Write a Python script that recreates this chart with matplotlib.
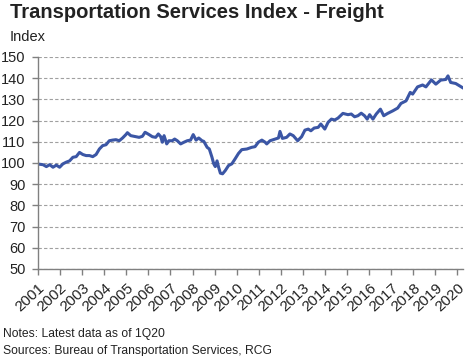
import matplotlib
matplotlib.use("Agg")
import matplotlib.pyplot as plt

plt.rcParams['font.family'] = ['Liberation Sans', 'DejaVu Sans']

# decimal year and index value
dates = [2001.00, 2001.23, 2001.38, 2001.53, 2001.68, 2001.83, 2001.98, 2002.13,
         2002.28, 2002.43, 2002.58, 2002.73, 2002.88, 2003.03, 2003.18, 2003.33,
         2003.48, 2003.63, 2003.78, 2003.93, 2004.08, 2004.23, 2004.38, 2004.53,
         2004.68, 2004.83, 2004.98, 2005.05, 2005.20, 2005.43, 2005.58, 2005.73,
         2005.85, 2006.03, 2006.18, 2006.33, 2006.45, 2006.56, 2006.63, 2006.71,
         2006.83, 2006.93, 2007.08, 2007.19, 2007.31, 2007.46, 2007.61, 2007.76,
         2007.91, 2008.03, 2008.16, 2008.28, 2008.43, 2008.51, 2008.66, 2008.76,
         2008.88, 2008.96, 2009.03, 2009.11, 2009.18, 2009.26, 2009.36, 2009.48,
         2009.63, 2009.78, 2009.93, 2010.08, 2010.23, 2010.46, 2010.68, 2010.83,
         2010.98, 2011.14, 2011.29, 2011.36, 2011.51, 2011.74, 2011.89, 2011.96,
         2012.07, 2012.26, 2012.41, 2012.56, 2012.76, 2012.94, 2013.09, 2013.24,
         2013.36, 2013.51, 2013.69, 2013.81, 2013.99, 2014.14, 2014.29, 2014.44,
         2014.59, 2014.81, 2015.04, 2015.19, 2015.34, 2015.49, 2015.64, 2015.79,
         2015.91, 2016.02, 2016.17, 2016.32, 2016.51, 2016.66, 2016.84, 2017.07,
         2017.29, 2017.44, 2017.67, 2017.86, 2017.97, 2018.19, 2018.42, 2018.57,
         2018.82, 2019.02, 2019.24, 2019.47, 2019.57, 2019.69, 2019.92, 2020.22]
index = [99.5, 99.2, 98.3, 99.2, 98.0, 99.0, 98.0, 99.6,
         100.4, 101.0, 102.7, 103.0, 105.0, 104.0, 103.5, 103.5,
         103.0, 104.0, 106.6, 108.2, 108.6, 110.5, 110.8, 111.0,
         110.5, 111.8, 113.4, 114.3, 112.9, 112.4, 112.1, 112.6,
         114.5, 113.4, 112.4, 112.1, 113.7, 112.4, 109.8, 112.9,
         109.0, 110.5, 110.5, 111.3, 110.5, 109.0, 109.8, 110.5,
         110.8, 113.4, 110.8, 111.8, 110.5, 110.2, 107.4, 106.6,
         102.7, 99.6, 98.3, 101.0, 98.0, 95.2, 94.9, 96.4,
         98.8, 99.6, 102.0, 104.5, 106.3, 106.6, 107.4, 107.7,
         109.8, 110.8, 109.8, 109.0, 110.5, 111.3, 111.8, 114.9,
         111.6, 112.1, 113.7, 112.9, 110.5, 112.4, 115.5, 116.0,
         115.2, 116.5, 116.8, 118.4, 116.0, 119.2, 120.7, 120.3,
         121.2, 123.4, 122.8, 123.1, 121.8, 122.3, 123.5, 122.3,
         120.7, 122.8, 120.7, 123.1, 125.4, 122.3, 123.4, 124.6,
         125.9, 128.1, 129.3, 133.3, 132.5, 135.9, 136.8, 135.9,
         139.2, 137.2, 139.1, 139.4, 141.1, 138.0, 137.5, 135.6]

years = list(range(2001, 2021))
y_ticks = list(range(50, 151, 10))

fig = plt.figure(figsize=(4.67, 3.56), dpi=100)
ax = fig.add_axes([38 / 467, 87 / 356, 425 / 467, 212 / 356])

ax.plot(dates, index, color='#3B56A5', linewidth=2.2)

ax.set_xlim(2001, 2020.25)
ax.set_ylim(50, 150)
ax.set_yticks(y_ticks)
ax.set_xticks(years)
ax.set_xticklabels([str(y) for y in years], rotation=43, ha='right',
                   rotation_mode='anchor')

# grid
ax.grid(axis='y', color='#A0A0A0', linestyle=(0, (3, 2)), linewidth=0.8)
ax.set_axisbelow(True)

for s in ['top', 'right']:
    ax.spines[s].set_visible(False)
for s in ['left', 'bottom']:
    ax.spines[s].set_color('#808080')
    ax.spines[s].set_linewidth(1.0)

ax.tick_params(axis='both', colors='#808080', labelcolor='#222222',
               length=4, width=1.0)
ax.tick_params(axis='y', pad=5, labelsize=10.5)
ax.tick_params(axis='x', pad=4.5, labelsize=11)

fig.text(10 / 467, 1 - 3 / 356, 'Transportation Services Index - Freight',
         fontsize=14.5, fontweight='bold', color='#222222', va='top', ha='left')
fig.text(10 / 467, 1 - 30 / 356, 'Index', fontsize=10.5, color='#222222',
         va='top', ha='left')
fig.text(3 / 467, 1 - 328 / 356, 'Notes: Latest data as of 1Q20', fontsize=8.7,
         color='#222222', va='top', ha='left')
fig.text(3 / 467, 1 - 345 / 356, 'Sources: Bureau of Transportation Services, RCG',
         fontsize=8.7, color='#222222', va='top', ha='left')

fig.savefig('out.png', dpi=100)
